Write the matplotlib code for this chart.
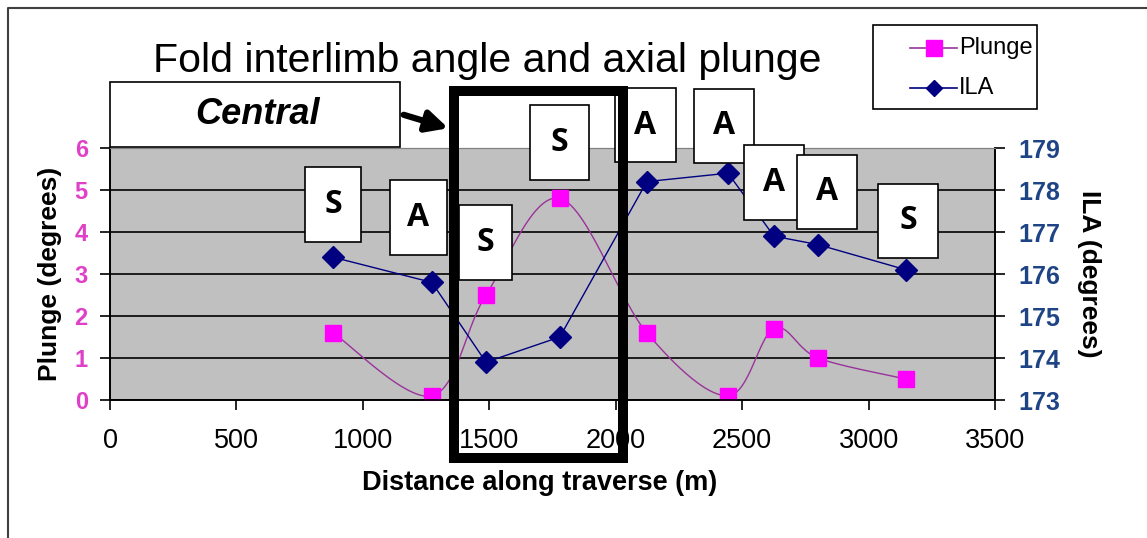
import numpy as np
import matplotlib.pyplot as plt
from matplotlib.patches import Rectangle, FancyArrowPatch
from matplotlib.lines import Line2D

plt.rcParams['font.family'] = ['Liberation Sans', 'DejaVu Sans']

# data
distance = [882, 1273, 1487, 1779, 2123, 2444, 2626, 2800, 3148]
plunge = [1.6, 0.1, 2.5, 4.8, 1.6, 0.1, 1.7, 1.0, 0.5]
ila = [176.4, 175.8, 173.9, 174.5, 178.2, 178.4, 176.9, 176.7, 176.1]

# fold-type labels and where their boxes sit (pixels, left/top/right/bottom)
fold_labels = ['S', 'A', 'S', 'S', 'A', 'A', 'A', 'A', 'S']
label_boxes = [(305, 167, 361, 242), (390, 180, 447, 255), (459, 205, 512, 280),
               (530, 105, 589, 180), (615, 88, 676, 162), (694, 89, 754, 163),
               (744, 145, 804, 220), (797, 155, 857, 229), (878, 184, 938, 258)]

W, H = 1147, 538
PLUNGE_LINE = '#993399'
PLUNGE_MARK = '#FF00FF'
ILA_COL = '#000080'


def fx(x):
    return x / W


def fy(y):
    return 1 - y / H


def smooth(xs, ys, n=30):
    # Excel-style smoothed line: cubic bezier with catmull-rom control points
    P = np.column_stack([np.asarray(xs, float), np.asarray(ys, float)])
    out = []
    for i in range(len(P) - 1):
        p0 = P[i - 1] if i > 0 else P[i]
        p3 = P[i + 2] if i + 2 < len(P) else P[i + 1]
        c1 = P[i] + (P[i + 1] - p0) / 6
        c2 = P[i + 1] - (p3 - P[i]) / 6
        t = np.linspace(0, 1, n)[:, None]
        out.append((1 - t) ** 3 * P[i] + 3 * (1 - t) ** 2 * t * c1
                   + 3 * (1 - t) * t ** 2 * c2 + t ** 3 * P[i + 1])
    seg = np.vstack(out)
    return seg[:, 0], seg[:, 1]


fig = plt.figure(figsize=(W / 100, H / 100), dpi=100)
ax = fig.add_axes([fx(110), fy(400), (995 - 110) / W, (400 - 148) / H])
ax2 = ax.twinx()

ax.set_facecolor('#C0C0C0')
ax.set_xlim(0, 3500)
ax.set_ylim(0, 6)
ax2.set_ylim(173, 179)
ax.set_xticks(range(0, 3501, 500))
ax.set_yticks(range(0, 7))
ax2.set_yticks(range(173, 180))
ax.yaxis.grid(True, color='black', linewidth=1.2)
ax.set_axisbelow(True)

sx, sy = smooth(distance, plunge)
ax.plot(sx, sy, color=PLUNGE_LINE, linewidth=1.0, zorder=3)
ax.plot(distance, plunge, linestyle='none', marker='s', markersize=12,
        color=PLUNGE_MARK, zorder=4)
ax2.plot(distance, ila, color=ILA_COL, linewidth=1.0, marker='D',
         markersize=11, zorder=3)

for a in (ax, ax2):
    a.spines['top'].set_color('#808080')
    for s in ('left', 'right', 'bottom'):
        a.spines[s].set_linewidth(1.2)

ax.tick_params(axis='x', direction='out', length=7, width=1.2, labelsize=19.5, pad=13)
ax.tick_params(axis='y', direction='out', length=7, width=1.2, labelsize=17,
               labelcolor='#E040C8', pad=9)
ax2.tick_params(axis='y', direction='out', length=7, width=1.2, labelsize=18,
                labelcolor='#1F4486', pad=10)
for lab in ax.get_yticklabels() + ax2.get_yticklabels():
    lab.set_fontweight('bold')

ax.set_xlabel('Distance along traverse (m)', fontsize=19.5, fontweight='bold')
ax.xaxis.set_label_coords((540 - 110) / 885, -(483 - 400) / 252, transform=ax.transAxes)
ax.xaxis.label.set_verticalalignment('center')
ax.set_ylabel('Plunge (degrees)', fontsize=19, fontweight='bold', labelpad=9)
ax2.set_ylabel('ILA (degrees)', fontsize=19, fontweight='bold', rotation=-90,
               labelpad=29)

fig.text(fx(487), fy(61), 'Fold interlimb angle and axial plunge', fontsize=29.5,
         ha='center', va='center')

# legend, drawn by hand to match the box
fig.add_artist(Rectangle((fx(873), fy(109)), (1037 - 873) / W, (109 - 25) / H,
                         transform=fig.transFigure, facecolor='white',
                         edgecolor='black', linewidth=1.2))
for ypx, name, col, mk, mfc, ms in [(48, 'Plunge', PLUNGE_LINE, 's', PLUNGE_MARK, 11),
                                     (88, 'ILA', ILA_COL, 'D', ILA_COL, 8)]:
    fig.add_artist(Line2D([fx(910), fx(957)], [fy(ypx), fy(ypx)],
                          transform=fig.transFigure, color=col, linewidth=1.2))
    fig.add_artist(Line2D([fx(933.5)], [fy(ypx)], transform=fig.transFigure,
                          marker=mk, markersize=ms, color=mfc, linestyle='none'))
    fig.text(fx(959), fy(ypx), name, fontsize=17, ha='left', va='center')

# fold type boxes
for lab, (l, t, r, b) in zip(fold_labels, label_boxes):
    fig.add_artist(Rectangle((fx(l), fy(b)), (r - l) / W, (b - t) / H,
                             transform=fig.transFigure, facecolor='white',
                             edgecolor='black', linewidth=1.2, zorder=10))
    fig.text(fx((l + r) / 2), fy((t + b) / 2), lab, fontsize=23, fontweight='bold',
             family=['Open Sans', 'DejaVu Sans'], ha='center', va='center', zorder=11)

# "Central" callout
fig.add_artist(Rectangle((fx(110), fy(147)), (400 - 110) / W, (147 - 82) / H,
                         transform=fig.transFigure, facecolor='white',
                         edgecolor='black', linewidth=1.2, zorder=10))
fig.text(fx(257), fy(114), 'Central', fontsize=26, fontweight='bold',
         style='italic', ha='center', va='center', zorder=11)
fig.add_artist(FancyArrowPatch((fx(401), fy(114)), (fx(451), fy(129)),
                               transform=fig.transFigure, arrowstyle='-|>',
                               mutation_scale=32, linewidth=4.5, color='black',
                               zorder=12))

# thick box around the central section
fig.add_artist(Rectangle((fx(454), fy(458)), (623 - 454) / W, (458 - 91) / H,
                         transform=fig.transFigure, facecolor='none',
                         edgecolor='black', linewidth=7.2, zorder=13))

# chart area border (top and left visible)
fig.add_artist(Line2D([fx(8), fx(8), 1], [0, fy(8), fy(8)],
                      transform=fig.transFigure, color='#404040', linewidth=1.5))

fig.savefig('out.png', dpi=100)
